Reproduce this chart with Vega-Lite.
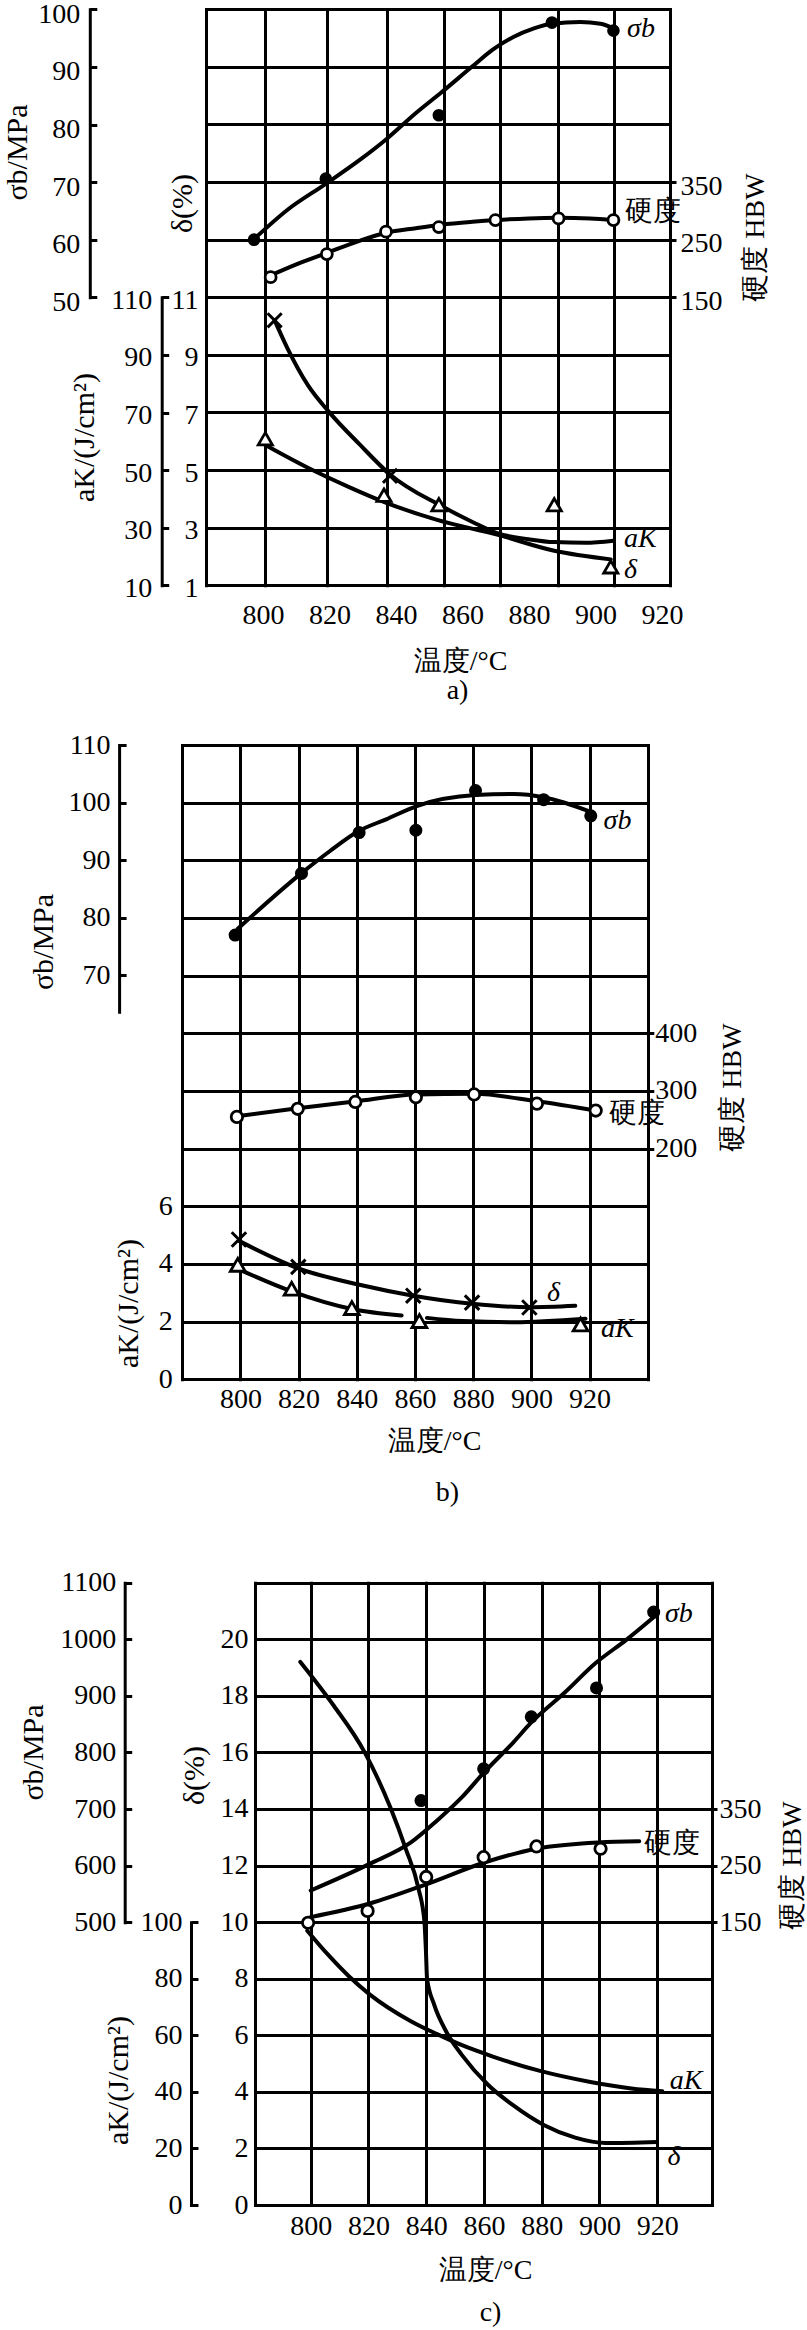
{
"$schema": "https://vega.github.io/schema/vega-lite/v6.json",
"padding": 0,
"spacing": 0,
"bounds": "flush",
"config": {
  "font": "Liberation Serif",
  "view": {"stroke": null},
  "axis": {"labelFont": "Liberation Serif", "titleFont": "Liberation Serif", "labelFontSize": 28, "titleFontSize": 30, "titleFontWeight": "normal", "labelColor": "black", "titleColor": "black", "domainColor": "black", "tickColor": "black", "gridColor": "black", "gridOpacity": 1, "gridWidth": 3, "domainWidth": 3, "tickWidth": 3, "gridCap": "square", "domainCap": "square", "labelFlush": false, "labelOverlap": false, "labelBound": false, "titleLimit": 1000, "labelLimit": 1000, "titleAlign": "center", "titleBaseline": "middle", "titlePadding": 0}
},
"datasets": {
  "a_sb_fit": [{"T":797.3,"v":60.1},{"T":807.4,"v":65.2},{"T":818.9,"v":69.7},{"T":829.0,"v":73.8},{"T":837.0,"v":77.4},{"T":846.0,"v":82.0},{"T":853.7,"v":85.6},{"T":863.0,"v":90.1},{"T":869.1,"v":93.0},{"T":875.3,"v":95.2},{"T":881.5,"v":96.7},{"T":886.9,"v":97.5},{"T":895.4,"v":97.8},{"T":901.5,"v":97.5},{"T":905.4,"v":96.7}],
  "a_sb_pt": [{"T":797.3,"v":60.0},{"T":818.9,"v":70.6},{"T":852.9,"v":81.6},{"T":886.9,"v":97.7},{"T":905.4,"v":96.3}],
  "a_hb_fit": [{"T":802.3,"v":188},{"T":810.4,"v":208},{"T":819.2,"v":227},{"T":829.0,"v":248},{"T":837.0,"v":262},{"T":846.0,"v":270},{"T":853.7,"v":276},{"T":863.0,"v":281},{"T":869.9,"v":284},{"T":879.9,"v":287},{"T":888.9,"v":288},{"T":898.4,"v":287},{"T":905.4,"v":284}],
  "a_hb_pt": [{"T":802.3,"v":185},{"T":819.2,"v":225},{"T":837.0,"v":264},{"T":852.9,"v":272},{"T":869.9,"v":284},{"T":888.9,"v":287},{"T":905.4,"v":284}],
  "a_ak_fit": [{"T":803.5,"v":102},{"T":807.4,"v":92.2},{"T":813.5,"v":79.5},{"T":819.7,"v":70.4},{"T":829.0,"v":59},{"T":838.2,"v":48.5},{"T":853.7,"v":37.5},{"T":863.0,"v":32},{"T":870.7,"v":28},{"T":879.9,"v":26},{"T":887.6,"v":25},{"T":896.9,"v":24.8},{"T":905.4,"v":25.5}],
  "a_ak_pt": [{"T":803.5,"v":102},{"T":838.2,"v":48}],
  "a_d_fit": [{"T":800.7,"v":5.87},{"T":813.5,"v":5.08},{"T":825.9,"v":4.41},{"T":836.7,"v":3.88},{"T":852.1,"v":3.28},{"T":870.7,"v":2.75},{"T":887.6,"v":2.2},{"T":904.6,"v":1.9}],
  "a_d_pt": [{"T":800.7,"v":6.09},{"T":836.4,"v":4.13},{"T":852.9,"v":3.8},{"T":887.6,"v":3.8},{"T":904.6,"v":1.64}],
  "a_lab": [{"T":909.5,"v":96.5,"s":"sb","label":"σb"},{"T":909,"v":298,"s":"hb","label":"硬度"},{"T":908.6,"v":26,"s":"ak","label":"aK"},{"T":908.6,"v":1.53,"s":"d","label":"δ"}],
  "b_sb_fit": [{"T":799.1,"v":78.1},{"T":821.1,"v":87.8},{"T":830.8,"v":91.6},{"T":840.8,"v":95.1},{"T":850.1,"v":97.1},{"T":860.6,"v":99.4},{"T":880.8,"v":101.3},{"T":894.0,"v":101.5},{"T":904.6,"v":100.9},{"T":920.4,"v":98.4}],
  "b_sb_pt": [{"T":798.2,"v":77.0},{"T":821.0,"v":87.7},{"T":840.8,"v":94.8},{"T":860.3,"v":95.2},{"T":880.8,"v":102.1},{"T":904.2,"v":100.5},{"T":920.4,"v":97.7}],
  "b_hb_fit": [{"T":798.8,"v":256},{"T":819.7,"v":270},{"T":839.5,"v":282},{"T":860.3,"v":294},{"T":880.3,"v":295},{"T":901.9,"v":282},{"T":922.1,"v":266}],
  "b_hb_pt": [{"T":798.8,"v":255},{"T":819.7,"v":269},{"T":839.5,"v":281},{"T":860.3,"v":289},{"T":880.3,"v":294},{"T":901.9,"v":278},{"T":922.1,"v":266}],
  "b_d_fit": [{"T":799.5,"v":4.8},{"T":819.9,"v":3.85},{"T":841.3,"v":3.27},{"T":859.4,"v":2.9},{"T":879.6,"v":2.62},{"T":899.3,"v":2.5},{"T":915.1,"v":2.55}],
  "b_d_pt": [{"T":799.5,"v":4.85},{"T":819.9,"v":3.9},{"T":859.4,"v":2.9},{"T":879.6,"v":2.66},{"T":899.3,"v":2.49}],
  "b_ak_fit": [{"T":799.1,"v":3.83,"seg":1},{"T":817.6,"v":3.05,"seg":1},{"T":838.3,"v":2.44,"seg":1},{"T":855.4,"v":2.21,"seg":1},{"T":864.1,"v":2.13,"seg":2},{"T":876.4,"v":2.02,"seg":2},{"T":894.0,"v":1.98,"seg":2},{"T":918.6,"v":2.1,"seg":2}],
  "b_ak_pt": [{"T":799.1,"v":3.97},{"T":817.6,"v":3.14},{"T":838.3,"v":2.47},{"T":861.5,"v":2.02},{"T":916.9,"v":1.9}],
  "b_lab": [{"T":924.8,"v":96.8,"s":"sb","label":"σb"},{"T":926.5,"v":260,"s":"hb","label":"硬度"},{"T":905.4,"v":3.0,"s":"ak","label":"δ"},{"T":923.9,"v":1.75,"s":"ak","label":"aK"}],
  "c_sb_fit": [{"T":800,"v":556},{"T":820.4,"v":603},{"T":834.7,"v":641},{"T":843.6,"v":679},{"T":852.4,"v":721},{"T":859.9,"v":764},{"T":870.2,"v":818},{"T":876.4,"v":853},{"T":888,"v":906},{"T":898.7,"v":958},{"T":909.3,"v":999},{"T":918.8,"v":1039}],
  "c_sb_pt": [{"T":838.2,"v":715},{"T":859.9,"v":771},{"T":876.4,"v":863},{"T":899.0,"v":914},{"T":918.8,"v":1048}],
  "c_hb_fit": [{"T":800,"v":159},{"T":820.4,"v":183},{"T":840,"v":217},{"T":860.4,"v":256},{"T":878.2,"v":280},{"T":899.6,"v":291},{"T":913.8,"v":293}],
  "c_hb_pt": [{"T":799.1,"v":149},{"T":819.7,"v":170},{"T":840,"v":230},{"T":859.9,"v":265},{"T":878.2,"v":284},{"T":900.4,"v":280}],
  "c_ak_fit": [{"T":798.8,"v":97},{"T":806,"v":88.5},{"T":813.3,"v":80.8},{"T":820.4,"v":74.5},{"T":834.7,"v":65},{"T":843.6,"v":60.5},{"T":852.4,"v":56.5},{"T":863.1,"v":52.5},{"T":879.1,"v":47.5},{"T":896.9,"v":43.5},{"T":911.1,"v":41.2},{"T":921.8,"v":40.2}],
  "c_d_fit": [{"T":796.4,"v":19.2},{"T":808,"v":17.65},{"T":818.7,"v":16.0},{"T":827.6,"v":14.05},{"T":832.9,"v":12.6},{"T":837.3,"v":11.2},{"T":839.4,"v":10.0},{"T":839.9,"v":9.0},{"T":840.3,"v":8.0},{"T":842.7,"v":7.1},{"T":847.1,"v":6.1},{"T":852.4,"v":5.3},{"T":861.3,"v":4.26},{"T":870.2,"v":3.52},{"T":880.9,"v":2.82},{"T":891.6,"v":2.38},{"T":902.2,"v":2.19},{"T":920,"v":2.23}],
  "c_lab": [{"T":922.7,"v":1045,"s":"sb","label":"σb"},{"T":915.6,"v":288,"s":"hb","label":"硬度"},{"T":924.4,"v":44,"s":"ak","label":"aK"},{"T":923.6,"v":1.7,"s":"d","label":"δ"}]
},
"vconcat": [
{
  "width": 807, "height": 720,
  "resolve": {"scale": {"y": "independent"}, "axis": {"x": "independent", "y": "independent"}},
  "layer": [
    {"data": {"values": [{}]}, "mark": {"type": "point", "opacity": 0},
     "encoding": {
       "x": {"datum": 850, "type": "quantitative", "scale": {"domain": [782.86, 922.41], "range": [206, 670], "nice": false, "zero": false}, "axis": {"orient": "top", "values": [782.86, 800.6, 819.4, 837.3, 854.3, 871.3, 888.7, 905.6, 922.41], "grid": true, "domain": false, "ticks": false, "tickSize": 0, "labels": false, "title": null}},
       "y": {"datum": 5, "type": "quantitative", "scale": {"domain": [0, 10], "range": [585.3, 9.3], "nice": false, "zero": false}, "axis": {"orient": "left", "values": [0,1,2,3,4,5,6,7,8,9,10], "grid": true, "domain": false, "ticks": false, "tickSize": 0, "labels": false, "title": null}}
     }},
    {"data": {"values": [{}]}, "mark": {"type": "point", "opacity": 0},
     "encoding": {
       "x": {"datum": 850, "type": "quantitative", "scale": {"domain": [782.86, 922.41], "range": [206, 670], "nice": false, "zero": false}, "axis": {"orient": "bottom", "offset": -134.7, "values": [800,820,840,860,880,900,920], "grid": false, "domain": false, "ticks": false, "tickSize": 0, "labelPadding": 29.7, "labelBaseline": "middle", "title": "温度/°C", "titleFontSize": 28, "titleX": 460, "titleY": 75.7}},
       "y": {"datum": 5, "type": "quantitative", "scale": {"domain": [0, 10], "range": [585.3, 9.3], "nice": false, "zero": false}, "axis": null}
     }},
    {"data": {"values": [{}]}, "mark": {"type": "point", "opacity": 0},
     "encoding": {
       "x": {"datum": 850, "type": "quantitative", "scale": {"domain": [782.86, 922.41], "range": [206, 670], "nice": false, "zero": false}, "axis": {"orient": "bottom", "offset": -134.7, "grid": false, "domain": false, "ticks": false, "tickSize": 0, "labels": false, "title": "a)", "titleFontSize": 28, "titleX": 457, "titleY": 104.7}},
       "y": {"datum": 5, "type": "quantitative", "scale": {"domain": [0, 10], "range": [585.3, 9.3], "nice": false, "zero": false}, "axis": null}
     }},
    {"data": {"name": "a_sb_fit"}, "mark": {"type": "line", "color": "black", "strokeWidth": 4, "interpolate": "monotone", "strokeCap": "round"},
     "encoding": {
       "x": {"field": "T", "type": "quantitative", "scale": {"domain": [782.86, 922.41], "range": [206, 670], "nice": false, "zero": false}, "axis": null},
       "y": {"field": "v", "type": "quantitative", "scale": {"domain": [50, 100], "range": [297.3, 9.3], "nice": false, "zero": false}, "axis": {"orient": "left", "offset": -89.8, "values": [50,60,70,80,90,100], "grid": false, "domain": true, "ticks": true, "tickSize": -7, "labelPadding": 17, "labelOffset": 5, "title": "σb/MPa", "titleAngle": 270, "titleX": -72, "titleY": 152}}
     }},
    {"data": {"name": "a_sb_pt"}, "mark": {"type": "point", "shape": "circle", "filled": true, "color": "black", "size": 160, "opacity": 1},
     "encoding": {
       "x": {"field": "T", "type": "quantitative", "scale": {"domain": [782.86, 922.41], "range": [206, 670], "nice": false, "zero": false}, "axis": null},
       "y": {"field": "v", "type": "quantitative", "scale": {"domain": [50, 100], "range": [297.3, 9.3], "nice": false, "zero": false}, "axis": null}
     }},
    {"data": {"name": "a_hb_fit"}, "mark": {"type": "line", "color": "black", "strokeWidth": 4, "interpolate": "monotone", "strokeCap": "round"},
     "encoding": {
       "x": {"field": "T", "type": "quantitative", "scale": {"domain": [782.86, 922.41], "range": [206, 670], "nice": false, "zero": false}, "axis": null},
       "y": {"field": "v", "type": "quantitative", "scale": {"domain": [150, 350], "range": [297.3, 182.1], "nice": false, "zero": false}, "axis": {"orient": "right", "offset": -137, "values": [150,250,350], "grid": false, "domain": false, "ticks": true, "tickSize": 6, "labelPadding": 4, "labelOffset": 4, "title": "硬度 HBW", "titleFontSize": 28, "titleAngle": 270, "titleX": 85, "titleY": 237}}
     }},
    {"data": {"name": "a_hb_pt"}, "mark": {"type": "point", "shape": "circle", "filled": true, "fill": "white", "stroke": "black", "strokeWidth": 2.8, "size": 120, "opacity": 1},
     "encoding": {
       "x": {"field": "T", "type": "quantitative", "scale": {"domain": [782.86, 922.41], "range": [206, 670], "nice": false, "zero": false}, "axis": null},
       "y": {"field": "v", "type": "quantitative", "scale": {"domain": [150, 350], "range": [297.3, 182.1], "nice": false, "zero": false}, "axis": null}
     }},
    {"data": {"name": "a_ak_fit"}, "mark": {"type": "line", "color": "black", "strokeWidth": 4, "interpolate": "monotone", "strokeCap": "round"},
     "encoding": {
       "x": {"field": "T", "type": "quantitative", "scale": {"domain": [782.86, 922.41], "range": [206, 670], "nice": false, "zero": false}, "axis": null},
       "y": {"field": "v", "type": "quantitative", "scale": {"domain": [10, 110], "range": [585.3, 297.3], "nice": false, "zero": false}, "axis": {"orient": "left", "offset": -161.7, "values": [10,30,50,70,90,110], "grid": false, "domain": true, "ticks": true, "tickSize": -7, "labelPadding": 17, "labelOffset": 3, "title": "aK/(J/cm²)", "titleAngle": 270, "titleX": -77, "titleY": 437}}
     }},
    {"data": {"name": "a_ak_pt"}, "mark": {"type": "point", "shape": "M-1,-1L1,1M1,-1L-1,1", "filled": false, "stroke": "black", "strokeWidth": 3, "size": 200, "opacity": 1},
     "encoding": {
       "x": {"field": "T", "type": "quantitative", "scale": {"domain": [782.86, 922.41], "range": [206, 670], "nice": false, "zero": false}, "axis": null},
       "y": {"field": "v", "type": "quantitative", "scale": {"domain": [10, 110], "range": [585.3, 297.3], "nice": false, "zero": false}, "axis": null}
     }},
    {"data": {"name": "a_d_fit"}, "mark": {"type": "line", "color": "black", "strokeWidth": 4, "interpolate": "monotone", "strokeCap": "round"},
     "encoding": {
       "x": {"field": "T", "type": "quantitative", "scale": {"domain": [782.86, 922.41], "range": [206, 670], "nice": false, "zero": false}, "axis": null},
       "y": {"field": "v", "type": "quantitative", "scale": {"domain": [1, 11], "range": [585.3, 297.3], "nice": false, "zero": false}, "axis": {"orient": "left", "offset": -206, "values": [1,3,5,7,9,11], "grid": false, "domain": false, "ticks": false, "tickSize": 0, "labelPadding": 8, "labelOffset": 3, "title": "δ(%)", "titleAngle": 270, "titleX": -24, "titleY": 203}}
     }},
    {"data": {"name": "a_d_pt"}, "mark": {"type": "point", "shape": "triangle-up", "filled": true, "fill": "white", "stroke": "black", "strokeWidth": 2.8, "size": 200, "opacity": 1},
     "encoding": {
       "x": {"field": "T", "type": "quantitative", "scale": {"domain": [782.86, 922.41], "range": [206, 670], "nice": false, "zero": false}, "axis": null},
       "y": {"field": "v", "type": "quantitative", "scale": {"domain": [1, 11], "range": [585.3, 297.3], "nice": false, "zero": false}, "axis": null}
     }},
    {"data": {"name": "a_lab"}, "transform": [{"filter": "datum.s == 'sb'"}], "mark": {"type": "text", "align": "left", "baseline": "middle", "fontSize": 28, "fontStyle": "italic", "color": "black"},
     "encoding": {
       "x": {"field": "T", "type": "quantitative", "scale": {"domain": [782.86, 922.41], "range": [206, 670], "nice": false, "zero": false}, "axis": null},
       "y": {"field": "v", "type": "quantitative", "scale": {"domain": [50, 100], "range": [297.3, 9.3], "nice": false, "zero": false}, "axis": null},
       "text": {"field": "label"}
     }},
    {"data": {"name": "a_lab"}, "transform": [{"filter": "datum.s == 'hb'"}], "mark": {"type": "text", "align": "left", "baseline": "middle", "fontSize": 28, "color": "black"},
     "encoding": {
       "x": {"field": "T", "type": "quantitative", "scale": {"domain": [782.86, 922.41], "range": [206, 670], "nice": false, "zero": false}, "axis": null},
       "y": {"field": "v", "type": "quantitative", "scale": {"domain": [150, 350], "range": [297.3, 182.1], "nice": false, "zero": false}, "axis": null},
       "text": {"field": "label"}
     }},
    {"data": {"name": "a_lab"}, "transform": [{"filter": "datum.s == 'ak'"}], "mark": {"type": "text", "align": "left", "baseline": "middle", "fontSize": 28, "fontStyle": "italic", "color": "black"},
     "encoding": {
       "x": {"field": "T", "type": "quantitative", "scale": {"domain": [782.86, 922.41], "range": [206, 670], "nice": false, "zero": false}, "axis": null},
       "y": {"field": "v", "type": "quantitative", "scale": {"domain": [10, 110], "range": [585.3, 297.3], "nice": false, "zero": false}, "axis": null},
       "text": {"field": "label"}
     }},
    {"data": {"name": "a_lab"}, "transform": [{"filter": "datum.s == 'd'"}], "mark": {"type": "text", "align": "left", "baseline": "middle", "fontSize": 28, "fontStyle": "italic", "color": "black"},
     "encoding": {
       "x": {"field": "T", "type": "quantitative", "scale": {"domain": [782.86, 922.41], "range": [206, 670], "nice": false, "zero": false}, "axis": null},
       "y": {"field": "v", "type": "quantitative", "scale": {"domain": [1, 11], "range": [585.3, 297.3], "nice": false, "zero": false}, "axis": null},
       "text": {"field": "label"}
     }}
  ]
},
{
  "width": 807, "height": 810,
  "resolve": {"scale": {"y": "independent"}, "axis": {"x": "independent", "y": "independent"}},
  "layer": [
    {"data": {"values": [{}]}, "mark": {"type": "point", "opacity": 0},
     "encoding": {
       "x": {"datum": 850, "type": "quantitative", "scale": {"domain": [780, 940], "range": [182.2, 647.8], "nice": false, "zero": false}, "axis": {"orient": "top", "values": [780,800,820,840,860,880,900,920,940], "grid": true, "domain": false, "ticks": false, "tickSize": 0, "labels": false, "title": null}},
       "y": {"datum": 5, "type": "quantitative", "scale": {"domain": [0, 11], "range": [659.3, 25], "nice": false, "zero": false}, "axis": {"orient": "left", "values": [0,1,2,3,4,5,6,7,8,9,10,11], "grid": true, "domain": false, "ticks": false, "tickSize": 0, "labels": false, "title": null}}
     }},
    {"data": {"values": [{}]}, "mark": {"type": "point", "opacity": 0},
     "encoding": {
       "x": {"datum": 850, "type": "quantitative", "scale": {"domain": [780, 940], "range": [182.2, 647.8], "nice": false, "zero": false}, "axis": {"orient": "bottom", "offset": -150.7, "values": [800,820,840,860,880,900,920], "grid": false, "domain": false, "ticks": false, "tickSize": 0, "labelPadding": 19.7, "labelBaseline": "middle", "title": "温度/°C", "titleFontSize": 28, "titleX": 434, "titleY": 61.7}},
       "y": {"datum": 5, "type": "quantitative", "scale": {"domain": [0, 11], "range": [659.3, 25], "nice": false, "zero": false}, "axis": null}
     }},
    {"data": {"values": [{}]}, "mark": {"type": "point", "opacity": 0},
     "encoding": {
       "x": {"datum": 850, "type": "quantitative", "scale": {"domain": [780, 940], "range": [182.2, 647.8], "nice": false, "zero": false}, "axis": {"orient": "bottom", "offset": -150.7, "grid": false, "domain": false, "ticks": false, "tickSize": 0, "labels": false, "title": "b)", "titleFontSize": 28, "titleX": 447, "titleY": 112.7}},
       "y": {"datum": 5, "type": "quantitative", "scale": {"domain": [0, 11], "range": [659.3, 25], "nice": false, "zero": false}, "axis": null}
     }},
    {"data": {"name": "b_sb_fit"}, "mark": {"type": "line", "color": "black", "strokeWidth": 4, "interpolate": "monotone", "strokeCap": "round"},
     "encoding": {
       "x": {"field": "T", "type": "quantitative", "scale": {"domain": [780, 940], "range": [182.2, 647.8], "nice": false, "zero": false}, "axis": null},
       "y": {"field": "v", "type": "quantitative", "scale": {"domain": [63.7, 110], "range": [291.7, 25], "nice": false, "zero": false}, "axis": {"orient": "left", "offset": -119.1, "values": [70,80,90,100,110], "grid": false, "domain": true, "ticks": true, "tickSize": -7, "labelPadding": 16, "title": "σb/MPa", "titleAngle": 270, "titleX": -75.5, "titleY": 221.5}}
     }},
    {"data": {"name": "b_sb_pt"}, "mark": {"type": "point", "shape": "circle", "filled": true, "color": "black", "size": 170, "opacity": 1},
     "encoding": {
       "x": {"field": "T", "type": "quantitative", "scale": {"domain": [780, 940], "range": [182.2, 647.8], "nice": false, "zero": false}, "axis": null},
       "y": {"field": "v", "type": "quantitative", "scale": {"domain": [63.7, 110], "range": [291.7, 25], "nice": false, "zero": false}, "axis": null}
     }},
    {"data": {"name": "b_hb_fit"}, "mark": {"type": "line", "color": "black", "strokeWidth": 4, "interpolate": "monotone", "strokeCap": "round"},
     "encoding": {
       "x": {"field": "T", "type": "quantitative", "scale": {"domain": [780, 940], "range": [182.2, 647.8], "nice": false, "zero": false}, "axis": null},
       "y": {"field": "v", "type": "quantitative", "scale": {"domain": [200, 400], "range": [428.6, 313.3], "nice": false, "zero": false}, "axis": {"orient": "right", "offset": -159.2, "values": [200,300,400], "grid": false, "domain": false, "ticks": true, "tickSize": 6, "labelPadding": 1, "title": "硬度 HBW", "titleFontSize": 28, "titleAngle": 270, "titleX": 85, "titleY": 367}}
     }},
    {"data": {"name": "b_hb_pt"}, "mark": {"type": "point", "shape": "circle", "filled": true, "fill": "white", "stroke": "black", "strokeWidth": 2.8, "size": 130, "opacity": 1},
     "encoding": {
       "x": {"field": "T", "type": "quantitative", "scale": {"domain": [780, 940], "range": [182.2, 647.8], "nice": false, "zero": false}, "axis": null},
       "y": {"field": "v", "type": "quantitative", "scale": {"domain": [200, 400], "range": [428.6, 313.3], "nice": false, "zero": false}, "axis": null}
     }},
    {"data": {"name": "b_ak_fit"}, "mark": {"type": "line", "color": "black", "strokeWidth": 4, "interpolate": "monotone", "strokeCap": "round"},
     "encoding": {
       "x": {"field": "T", "type": "quantitative", "scale": {"domain": [780, 940], "range": [182.2, 647.8], "nice": false, "zero": false}, "axis": null},
       "y": {"field": "v", "type": "quantitative", "scale": {"domain": [0, 6], "range": [659.3, 486.3], "nice": false, "zero": false}, "axis": {"orient": "left", "offset": -182.2, "values": [0,2,4,6], "grid": false, "domain": false, "ticks": false, "tickSize": 0, "labelPadding": 10, "title": "aK/(J/cm²)", "titleAngle": 270, "titleX": -54, "titleY": 583}},
       "detail": {"field": "seg", "type": "nominal"}
     }},
    {"data": {"name": "b_d_fit"}, "mark": {"type": "line", "color": "black", "strokeWidth": 4, "interpolate": "monotone", "strokeCap": "round"},
     "encoding": {
       "x": {"field": "T", "type": "quantitative", "scale": {"domain": [780, 940], "range": [182.2, 647.8], "nice": false, "zero": false}, "axis": null},
       "y": {"field": "v", "type": "quantitative", "scale": {"domain": [0, 6], "range": [659.3, 486.3], "nice": false, "zero": false}, "axis": null}
     }},
    {"data": {"name": "b_d_pt"}, "mark": {"type": "point", "shape": "M-1,-1L1,1M1,-1L-1,1", "filled": false, "stroke": "black", "strokeWidth": 3, "size": 210, "opacity": 1},
     "encoding": {
       "x": {"field": "T", "type": "quantitative", "scale": {"domain": [780, 940], "range": [182.2, 647.8], "nice": false, "zero": false}, "axis": null},
       "y": {"field": "v", "type": "quantitative", "scale": {"domain": [0, 6], "range": [659.3, 486.3], "nice": false, "zero": false}, "axis": null}
     }},
    {"data": {"name": "b_ak_pt"}, "mark": {"type": "point", "shape": "triangle-up", "filled": true, "fill": "white", "stroke": "black", "strokeWidth": 2.8, "size": 220, "opacity": 1},
     "encoding": {
       "x": {"field": "T", "type": "quantitative", "scale": {"domain": [780, 940], "range": [182.2, 647.8], "nice": false, "zero": false}, "axis": null},
       "y": {"field": "v", "type": "quantitative", "scale": {"domain": [0, 6], "range": [659.3, 486.3], "nice": false, "zero": false}, "axis": null}
     }},
    {"data": {"name": "b_lab"}, "transform": [{"filter": "datum.s == 'sb'"}], "mark": {"type": "text", "align": "left", "baseline": "middle", "fontSize": 28, "fontStyle": "italic", "color": "black"},
     "encoding": {
       "x": {"field": "T", "type": "quantitative", "scale": {"domain": [780, 940], "range": [182.2, 647.8], "nice": false, "zero": false}, "axis": null},
       "y": {"field": "v", "type": "quantitative", "scale": {"domain": [63.7, 110], "range": [291.7, 25], "nice": false, "zero": false}, "axis": null},
       "text": {"field": "label"}
     }},
    {"data": {"name": "b_lab"}, "transform": [{"filter": "datum.s == 'hb'"}], "mark": {"type": "text", "align": "left", "baseline": "middle", "fontSize": 28, "color": "black"},
     "encoding": {
       "x": {"field": "T", "type": "quantitative", "scale": {"domain": [780, 940], "range": [182.2, 647.8], "nice": false, "zero": false}, "axis": null},
       "y": {"field": "v", "type": "quantitative", "scale": {"domain": [200, 400], "range": [428.6, 313.3], "nice": false, "zero": false}, "axis": null},
       "text": {"field": "label"}
     }},
    {"data": {"name": "b_lab"}, "transform": [{"filter": "datum.s == 'ak'"}], "mark": {"type": "text", "align": "left", "baseline": "middle", "fontSize": 28, "fontStyle": "italic", "color": "black"},
     "encoding": {
       "x": {"field": "T", "type": "quantitative", "scale": {"domain": [780, 940], "range": [182.2, 647.8], "nice": false, "zero": false}, "axis": null},
       "y": {"field": "v", "type": "quantitative", "scale": {"domain": [0, 6], "range": [659.3, 486.3], "nice": false, "zero": false}, "axis": null},
       "text": {"field": "label"}
     }}
  ]
},
{
  "width": 807, "height": 800,
  "resolve": {"scale": {"y": "independent"}, "axis": {"x": "independent", "y": "independent"}},
  "layer": [
    {"data": {"values": [{}]}, "mark": {"type": "point", "opacity": 0},
     "encoding": {
       "x": {"datum": 850, "type": "quantitative", "scale": {"domain": [780.7, 939.0], "range": [255, 712], "nice": false, "zero": false}, "axis": {"orient": "top", "values": [780.7,800,820,840,860,880,900,920,939.0], "grid": true, "domain": false, "ticks": false, "tickSize": 0, "labels": false, "title": null}},
       "y": {"datum": 5, "type": "quantitative", "scale": {"domain": [0, 22], "range": [675, 52.7], "nice": false, "zero": false}, "axis": {"orient": "left", "values": [0,2,4,6,8,10,12,14,16,18,20,22], "grid": true, "domain": false, "ticks": false, "tickSize": 0, "labels": false, "title": null}}
     }},
    {"data": {"values": [{}]}, "mark": {"type": "point", "opacity": 0},
     "encoding": {
       "x": {"datum": 850, "type": "quantitative", "scale": {"domain": [780.7, 939.0], "range": [255, 712], "nice": false, "zero": false}, "axis": {"orient": "bottom", "offset": -125, "values": [800,820,840,860,880,900,920], "grid": false, "domain": false, "ticks": false, "tickSize": 0, "labelPadding": 21, "labelBaseline": "middle", "title": "温度/°C", "titleFontSize": 28, "titleX": 485, "titleY": 65}},
       "y": {"datum": 5, "type": "quantitative", "scale": {"domain": [0, 22], "range": [675, 52.7], "nice": false, "zero": false}, "axis": null}
     }},
    {"data": {"values": [{}]}, "mark": {"type": "point", "opacity": 0},
     "encoding": {
       "x": {"datum": 850, "type": "quantitative", "scale": {"domain": [780.7, 939.0], "range": [255, 712], "nice": false, "zero": false}, "axis": {"orient": "bottom", "offset": -125, "grid": false, "domain": false, "ticks": false, "tickSize": 0, "labels": false, "title": "c)", "titleFontSize": 28, "titleX": 490, "titleY": 107}},
       "y": {"datum": 5, "type": "quantitative", "scale": {"domain": [0, 22], "range": [675, 52.7], "nice": false, "zero": false}, "axis": null}
     }},
    {"data": {"name": "c_sb_fit"}, "mark": {"type": "line", "color": "black", "strokeWidth": 4, "interpolate": "monotone", "strokeCap": "round"},
     "encoding": {
       "x": {"field": "T", "type": "quantitative", "scale": {"domain": [780.7, 939.0], "range": [255, 712], "nice": false, "zero": false}, "axis": null},
       "y": {"field": "v", "type": "quantitative", "scale": {"domain": [500, 1100], "range": [392.2, 52.7], "nice": false, "zero": false}, "axis": {"orient": "left", "offset": -124.7, "values": [500,600,700,800,900,1000,1100], "format": "d", "grid": false, "domain": true, "ticks": true, "tickSize": -7, "labelPadding": 16, "title": "σb/MPa", "titleAngle": 270, "titleX": -91, "titleY": 222}}
     }},
    {"data": {"name": "c_sb_pt"}, "mark": {"type": "point", "shape": "circle", "filled": true, "color": "black", "size": 170, "opacity": 1},
     "encoding": {
       "x": {"field": "T", "type": "quantitative", "scale": {"domain": [780.7, 939.0], "range": [255, 712], "nice": false, "zero": false}, "axis": null},
       "y": {"field": "v", "type": "quantitative", "scale": {"domain": [500, 1100], "range": [392.2, 52.7], "nice": false, "zero": false}, "axis": null}
     }},
    {"data": {"name": "c_hb_fit"}, "mark": {"type": "line", "color": "black", "strokeWidth": 4, "interpolate": "monotone", "strokeCap": "round"},
     "encoding": {
       "x": {"field": "T", "type": "quantitative", "scale": {"domain": [780.7, 939.0], "range": [255, 712], "nice": false, "zero": false}, "axis": null},
       "y": {"field": "v", "type": "quantitative", "scale": {"domain": [150, 350], "range": [392.2, 279.1], "nice": false, "zero": false}, "axis": {"orient": "right", "offset": -96, "values": [150,250,350], "grid": false, "domain": false, "ticks": true, "tickSize": 6, "labelPadding": 2, "title": "硬度 HBW", "titleFontSize": 28, "titleAngle": 270, "titleX": 81, "titleY": 335}}
     }},
    {"data": {"name": "c_hb_pt"}, "mark": {"type": "point", "shape": "circle", "filled": true, "fill": "white", "stroke": "black", "strokeWidth": 2.8, "size": 130, "opacity": 1},
     "encoding": {
       "x": {"field": "T", "type": "quantitative", "scale": {"domain": [780.7, 939.0], "range": [255, 712], "nice": false, "zero": false}, "axis": null},
       "y": {"field": "v", "type": "quantitative", "scale": {"domain": [150, 350], "range": [392.2, 279.1], "nice": false, "zero": false}, "axis": null}
     }},
    {"data": {"name": "c_ak_fit"}, "mark": {"type": "line", "color": "black", "strokeWidth": 4, "interpolate": "monotone", "strokeCap": "round"},
     "encoding": {
       "x": {"field": "T", "type": "quantitative", "scale": {"domain": [780.7, 939.0], "range": [255, 712], "nice": false, "zero": false}, "axis": null},
       "y": {"field": "v", "type": "quantitative", "scale": {"domain": [0, 100], "range": [675, 392.2], "nice": false, "zero": false}, "axis": {"orient": "left", "offset": -191, "values": [0,20,40,60,80,100], "grid": false, "domain": true, "ticks": true, "tickSize": -7, "labelPadding": 16, "title": "aK/(J/cm²)", "titleAngle": 270, "titleX": -73, "titleY": 550}}
     }},
    {"data": {"name": "c_d_fit"}, "mark": {"type": "line", "color": "black", "strokeWidth": 4, "interpolate": "monotone", "strokeCap": "round"},
     "encoding": {
       "x": {"field": "T", "type": "quantitative", "scale": {"domain": [780.7, 939.0], "range": [255, 712], "nice": false, "zero": false}, "axis": null},
       "y": {"field": "v", "type": "quantitative", "scale": {"domain": [0, 22], "range": [675, 52.7], "nice": false, "zero": false}, "axis": {"orient": "left", "offset": -255, "values": [0,2,4,6,8,10,12,14,16,18,20], "grid": false, "domain": false, "ticks": false, "tickSize": 0, "labelPadding": 7, "title": "δ(%)", "titleAngle": 270, "titleX": -60.6, "titleY": 245}}
     }},
    {"data": {"name": "c_lab"}, "transform": [{"filter": "datum.s == 'sb'"}], "mark": {"type": "text", "align": "left", "baseline": "middle", "fontSize": 28, "fontStyle": "italic", "color": "black"},
     "encoding": {
       "x": {"field": "T", "type": "quantitative", "scale": {"domain": [780.7, 939.0], "range": [255, 712], "nice": false, "zero": false}, "axis": null},
       "y": {"field": "v", "type": "quantitative", "scale": {"domain": [500, 1100], "range": [392.2, 52.7], "nice": false, "zero": false}, "axis": null},
       "text": {"field": "label"}
     }},
    {"data": {"name": "c_lab"}, "transform": [{"filter": "datum.s == 'hb'"}], "mark": {"type": "text", "align": "left", "baseline": "middle", "fontSize": 28, "color": "black"},
     "encoding": {
       "x": {"field": "T", "type": "quantitative", "scale": {"domain": [780.7, 939.0], "range": [255, 712], "nice": false, "zero": false}, "axis": null},
       "y": {"field": "v", "type": "quantitative", "scale": {"domain": [150, 350], "range": [392.2, 279.1], "nice": false, "zero": false}, "axis": null},
       "text": {"field": "label"}
     }},
    {"data": {"name": "c_lab"}, "transform": [{"filter": "datum.s == 'ak'"}], "mark": {"type": "text", "align": "left", "baseline": "middle", "fontSize": 28, "fontStyle": "italic", "color": "black"},
     "encoding": {
       "x": {"field": "T", "type": "quantitative", "scale": {"domain": [780.7, 939.0], "range": [255, 712], "nice": false, "zero": false}, "axis": null},
       "y": {"field": "v", "type": "quantitative", "scale": {"domain": [0, 100], "range": [675, 392.2], "nice": false, "zero": false}, "axis": null},
       "text": {"field": "label"}
     }},
    {"data": {"name": "c_lab"}, "transform": [{"filter": "datum.s == 'd'"}], "mark": {"type": "text", "align": "left", "baseline": "middle", "fontSize": 28, "fontStyle": "italic", "color": "black"},
     "encoding": {
       "x": {"field": "T", "type": "quantitative", "scale": {"domain": [780.7, 939.0], "range": [255, 712], "nice": false, "zero": false}, "axis": null},
       "y": {"field": "v", "type": "quantitative", "scale": {"domain": [0, 22], "range": [675, 52.7], "nice": false, "zero": false}, "axis": null},
       "text": {"field": "label"}
     }}
  ]
}
]
}
